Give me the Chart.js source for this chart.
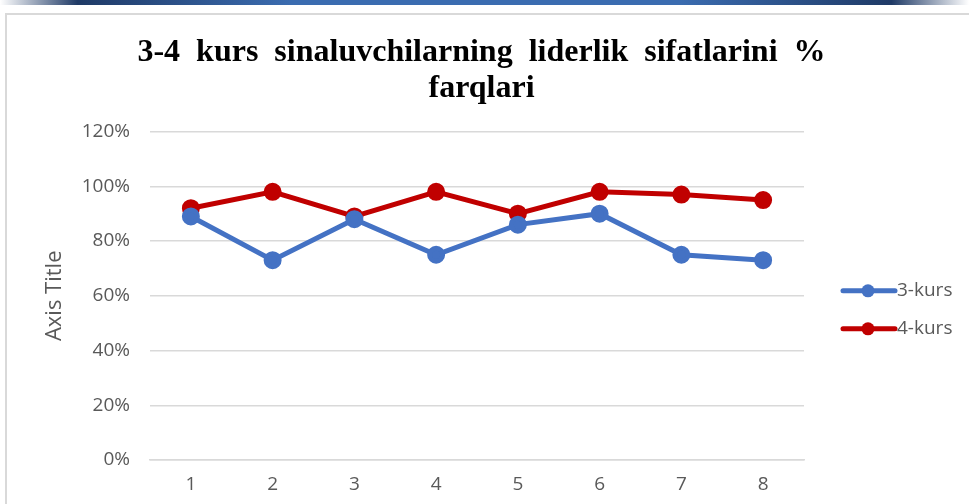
<!DOCTYPE html>
<html>
<head>
<meta charset="utf-8">
<script src="https://cdn.jsdelivr.net/npm/chart.js@4.4.0/dist/chart.umd.min.js"></script>
<style>
    body { margin: 0; background: #fff; width: 969px; height: 504px; overflow: hidden; position: relative; }
    .band { position: absolute; left: 0; top: 0; width: 969px; height: 5px;
        background: linear-gradient(90deg, #fff 0%, #1f3a66 8%, #3b6cb0 30%, #3b6cb0 70%, #1f3a66 92%, #fff 100%); }
    .frame { position: absolute; left: 5px; top: 13px; width: 970px; height: 500px;
        border-top: 2px solid #d9d9d9; border-left: 2px solid #d9d9d9; }
    #chartBox { position: absolute; left: 0; top: 0; width: 969px; height: 504px; }
</style>
</head>
<body>
<div class="band"></div>
<div class="frame"></div>
<div id="chartBox"><canvas id="graphCanvas"></canvas></div>
<script>
// Chart data
const categories = ["1", "2", "3", "4", "5", "6", "7", "8"];
const kurs3 = [89, 73, 88, 75, 86, 90, 75, 73];
const kurs4 = [92, 98, 89, 98, 90, 98, 97, 95];
const yTicks = [0, 20, 40, 60, 80, 100, 120];

const tickFont = { family: "'Open Sans', 'Liberation Sans', sans-serif", size: 19 };

// Excel-like legend on the right: short line with a dot, then the label
const sideLegend = {
    id: "sideLegend",
    afterLayout(chart) {
        // title is centred on the whole chart, not only on the plot
        chart.titleBlock.right = chart.width - 40;
    },
    afterDraw(chart) {
        const g = chart.ctx;
        const area = chart.chartArea;
        const x0 = area.right + 39;
        const yMid = (area.top + area.bottom) / 2 + 14;
        chart.data.datasets.forEach(function (ds, i) {
            const y = yMid - 19 + i * 38;
            g.save();
            g.strokeStyle = ds.borderColor;
            g.lineWidth = 5;
            g.lineCap = "round";
            g.beginPath();
            g.moveTo(x0, y);
            g.lineTo(x0 + 52, y);
            g.stroke();
            g.fillStyle = ds.borderColor;
            g.beginPath();
            g.arc(x0 + 25, y, 6.5, 0, Math.PI * 2);
            g.fill();
            g.fillStyle = "#595959";
            g.font = tickFont.size + "px " + tickFont.family;
            g.textBaseline = "middle";
            g.textAlign = "left";
            g.fillText(ds.label, x0 + 54, y);
            g.restore();
        });
    }
};

let chartInstance;

function drawChart() {
    const ctx = document.getElementById("graphCanvas").getContext("2d");
    Chart.defaults.font.family = tickFont.family;
    Chart.defaults.color = "#595959";

    chartInstance = new Chart(ctx, {
        type: "line",
        data: {
            labels: categories,
            datasets: [{
                label: "3-kurs",
                data: kurs3,
                borderColor: "#4472C4",
                backgroundColor: "#4472C4",
                borderWidth: 5,
                pointRadius: 6.5,
                pointHoverRadius: 6.5,
                fill: false
            }, {
                label: "4-kurs",
                data: kurs4,
                borderColor: "#C00000",
                backgroundColor: "#C00000",
                borderWidth: 5,
                pointRadius: 6.5,
                pointHoverRadius: 6.5,
                fill: false
            }]
        },
        options: {
            responsive: true,
            maintainAspectRatio: false,
            animation: false,
            layout: { padding: { top: 34, left: 34, right: 165, bottom: 0 } },
            plugins: {
                title: {
                    display: true,
                    text: ["3-4  kurs  sinaluvchilarning  liderlik  sifatlarini  %", "farqlari"],
                    color: "#000",
                    font: { family: "'Liberation Serif', serif", size: 32, weight: "bold", lineHeight: 1.15 },
                    padding: { top: 0, bottom: 24 }
                },
                legend: { display: false },
                tooltip: { enabled: false }
            },
            scales: {
                x: {
                    offset: true,
                    grid: { display: false, drawTicks: false },
                    border: { display: true, color: "#d9d9d9", width: 1.5 },
                    ticks: { font: tickFont, padding: 13 },
                    afterFit: function (scale) {
                        scale.height = 44;
                    }
                },
                y: {
                    min: 0,
                    max: 120,
                    afterBuildTicks: function (axis) {
                        axis.ticks = yTicks.map(function (v) { return { value: v }; });
                    },
                    afterFit: function (scale) {
                        scale.width = 116;
                    },
                    grid: { color: "#d9d9d9", lineWidth: 1.5, drawTicks: false },
                    border: { display: false },
                    ticks: {
                        font: tickFont,
                        padding: 20,
                        callback: function (v) { return v + "%"; }
                    },
                    title: {
                        display: true,
                        text: "Axis Title",
                        color: "#595959",
                        font: { family: tickFont.family, size: 22 },
                        padding: { top: 8, bottom: 0 }
                    }
                }
            }
        },
        plugins: [sideLegend]
    });
}

window.onload = drawChart;
</script>
</body>
</html>
